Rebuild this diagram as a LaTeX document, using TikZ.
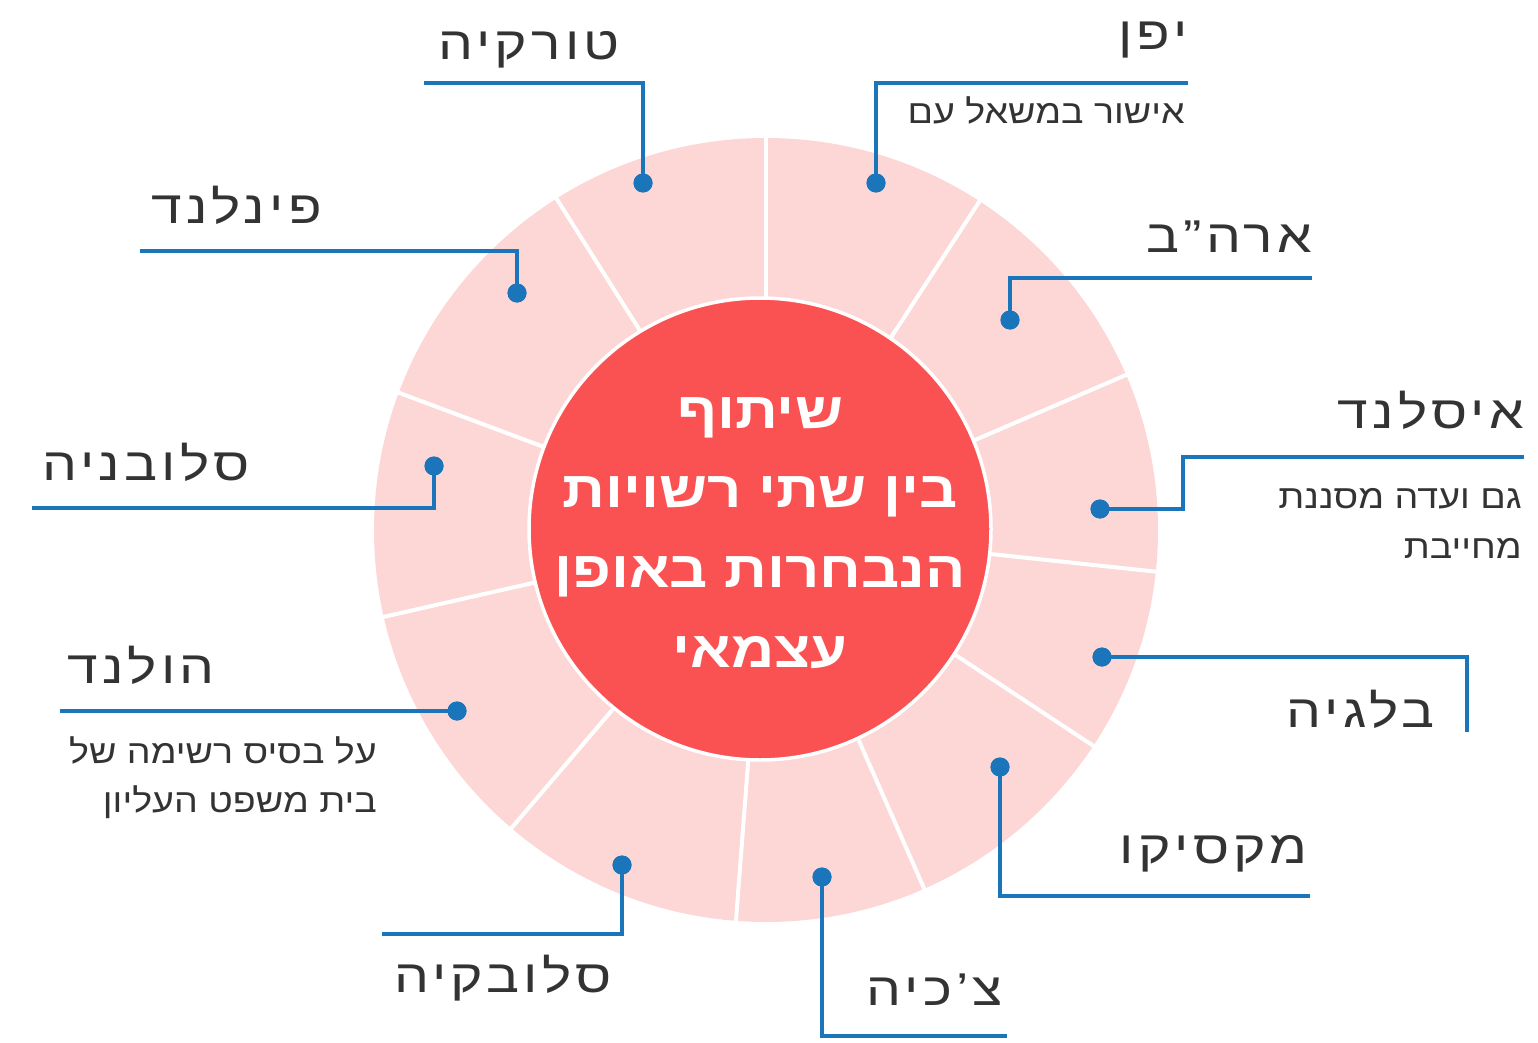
\documentclass[tikz,border=0pt]{standalone}
\usepackage{fontspec}
\setmainfont[Script=Hebrew]{Liberation Sans}
\newfontfamily\labelfont[Script=Hebrew,FakeStretch=1.2,LetterSpace=9]{Liberation Sans}
\newfontfamily\remarkfont[Script=Hebrew,FakeStretch=1.14]{Liberation Sans}
\newfontfamily\corefont[Script=Hebrew,FakeStretch=1.17]{Liberation Sans}
\TeXXeTstate=1
\definecolor{ringpink}{HTML}{FDD6D6}
\definecolor{corered}{HTML}{FA5252}
\definecolor{linkblue}{HTML}{1B75BB}
\definecolor{textgray}{HTML}{333333}
\newcommand{\heb}[1]{\beginR #1\endR}

\begin{document}
\begin{tikzpicture}[x=1pt,y=-1pt,
  bulletdot/.style={circle, fill=linkblue, minimum size=19pt, inner sep=0pt},
  linkline/.style={draw=linkblue, line width=3.5pt},
  country/.style={text=textgray, inner sep=0pt, font=\labelfont\fontsize{46}{50}\selectfont},
  remark/.style={text=textgray, inner sep=0pt, font=\remarkfont\fontsize{33}{40}\selectfont},
  coretext/.style={text=white, inner sep=0pt, font=\corefont\fontsize{51}{55}\selectfont\bfseries}]
\useasboundingbox (0,0) rectangle (1538,1043);

% ring and its segments
\coordinate (c) at (766,530);
\fill[ringpink] (c) circle (392);
\foreach \a in {-90,-57,-23.3,6.1,33.4,66.2,94.4,130.5,167.2,200.5,237.7}
  \draw[white, line width=4pt] (c) -- ++(\a:395);
\node[circle, fill=corered, draw=white, line width=3.5pt, minimum size=462pt, inner sep=0pt] (core) at (760,529) {};

% centre text
\node[coretext] (t1) at (760,428) [anchor=base] {\heb{שיתוף}};
\node[coretext] (t2) at (760,507) [anchor=base] {\heb{בין שתי רשויות}};
\node[coretext] (t3) at (760,587) [anchor=base] {\heb{הנבחרות באופן}};
\node[coretext] (t4) at (760,667) [anchor=base] {\heb{עצמאי}};

% dots
\node[bulletdot] (jp) at (876,183) {};
\node[bulletdot] (us) at (1010,320) {};
\node[bulletdot] (is) at (1100,509) {};
\node[bulletdot] (be) at (1102,657) {};
\node[bulletdot] (mx) at (1000,767) {};
\node[bulletdot] (cz) at (822,877) {};
\node[bulletdot] (sk) at (622,865) {};
\node[bulletdot] (nl) at (457,711) {};
\node[bulletdot] (si) at (434,466) {};
\node[bulletdot] (fi) at (517,293) {};
\node[bulletdot] (tr) at (643,183) {};

% line ends
\coordinate (jpend) at (1188,83);
\coordinate (usend) at (1312,278);
\coordinate (isbend) at (1183,457);
\coordinate (isend) at (1524,457);
\coordinate (beend) at (1467,732);
\coordinate (mxend) at (1310,896);
\coordinate (czend) at (1007,1036);
\coordinate (skend) at (382,934);
\coordinate (nlend) at (60,711);
\coordinate (siend) at (32,508);
\coordinate (fiend) at (140,251);
\coordinate (trend) at (424,83);

\draw[linkline] (jp.center) |- (jpend);
\draw[linkline] (us.center) |- (usend);
\draw[linkline] (is.center) -| (isbend) -- (isend);
\draw[linkline] (be.center) -| (beend);
\draw[linkline] (mx.center) |- (mxend);
\draw[linkline] (cz.center) |- (czend);
\draw[linkline] (sk.center) |- (skend);
\draw[linkline] (nl.center) -- (nlend);
\draw[linkline] (si.center) |- (siend);
\draw[linkline] (fi.center) |- (fiend);
\draw[linkline] (tr.center) |- (trend);

% redraw dots over the lines
\foreach \d in {jp,us,is,be,mx,cz,sk,nl,si,fi,tr}
  \fill[linkblue] (\d) circle (9.5);

% labels
\node[country, anchor=base east] (jplabel) at (1188,50) {\heb{יפן}};
\node[remark, anchor=base east] (jpnote) at (1185,124) {\heb{אישור במשאל עם}};
\node[country, anchor=base east] (uslabel) at (1312,252) {\heb{ארה”ב}};
\node[country, anchor=base east] (islabel) at (1524,428) {\heb{איסלנד}};
\node[remark, anchor=base east] (isnote1) at (1522,508) {\heb{גם ועדה מסננת}};
\node[remark, anchor=base east] (isnote2) at (1522,558) {\heb{מחייבת}};
\node[country, anchor=base east] (belabel) at (1435,727) {\heb{בלגיה}};
\node[country, anchor=base east] (mxlabel) at (1308,863) {\heb{מקסיקו}};
\node[country, anchor=base east] (czlabel) at (1003,1005) {\heb{צ’כיה}};
\node[country, anchor=base east] (sklabel) at (612,992) {\heb{סלובקיה}};
\node[country, anchor=base east] (nllabel) at (215,683) {\heb{הולנד}};
\node[remark, anchor=base east] (nlnote1) at (377,763) {\heb{על בסיס רשימה של}};
\node[remark, anchor=base east] (nlnote2) at (377,812) {\heb{בית משפט העליון}};
\node[country, anchor=base east] (silabel) at (250,480) {\heb{סלובניה}};
\node[country, anchor=base east] (filabel) at (322,223) {\heb{פינלנד}};
\node[country, anchor=base east] (trlabel) at (620,60) {\heb{טורקיה}};

\end{tikzpicture}
\end{document}
